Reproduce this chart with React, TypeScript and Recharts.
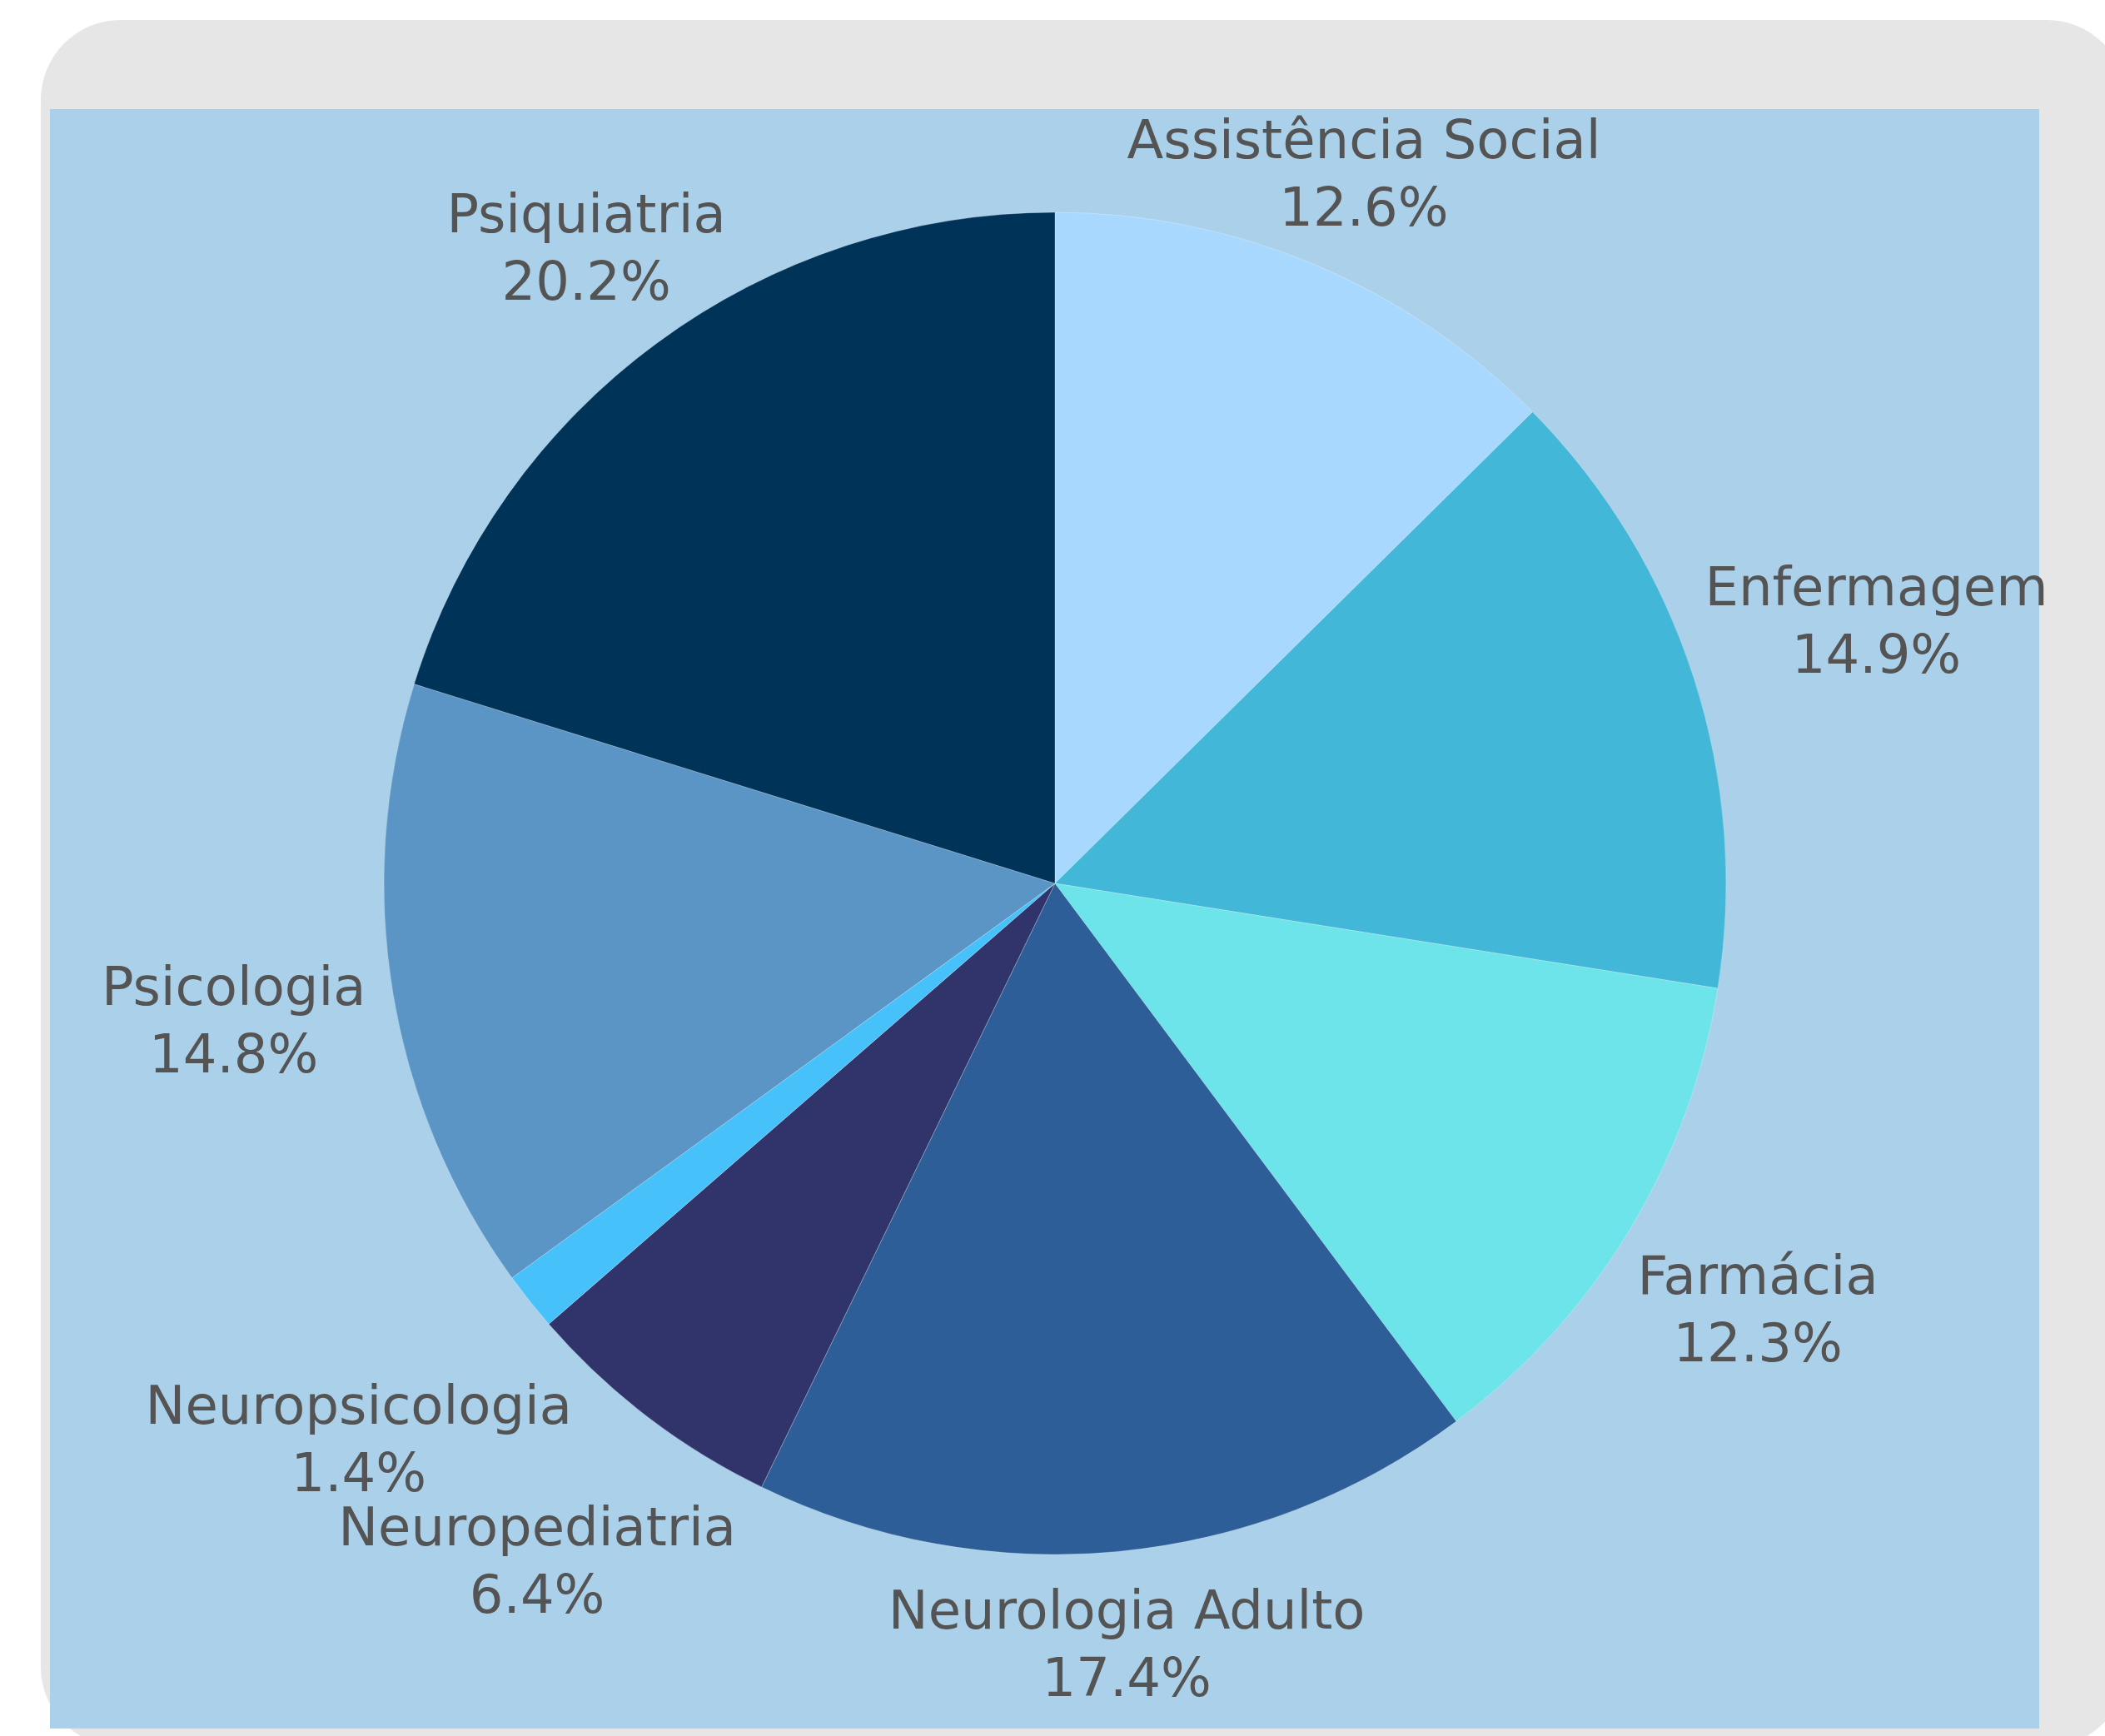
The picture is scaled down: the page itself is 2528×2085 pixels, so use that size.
import { PieChart, Pie, Cell } from "recharts";

const categories = [
  "Assistência Social",
  "Enfermagem",
  "Farmácia",
  "Neurologia Adulto",
  "Neuropediatria",
  "Neuropsicologia",
  "Psicologia",
  "Psiquiatria",
];

const shares = [12.6, 14.9, 12.3, 17.4, 6.4, 1.4, 14.8, 20.2];

const COLORS = [
  "#a9d8ff",
  "#43b7d7",
  "#6ce4e9",
  "#2e5e97",
  "#30346b",
  "#47c1fa",
  "#5b95c5",
  "#003358",
];

const FONT_SIZE = 64;
const FONT = "DejaVu Sans";
const TEXT_COLOR = "#545454";
const PANEL_TOP = 131;

const data = categories.map((name, i) => ({ name, value: shares[i] }));

let ctx: CanvasRenderingContext2D | null = null;
function textWidth(s: string) {
  if (!ctx) ctx = document.createElement("canvas").getContext("2d");
  if (!ctx) return s.length * FONT_SIZE * 0.6;
  ctx.font = `${FONT_SIZE}px "${FONT}"`;
  return ctx.measureText(s).width;
}

const RAD = Math.PI / 180;

function renderLabel(props: any) {
  const { cx, cy, midAngle, outerRadius, name, percent } = props;
  const pct = `${(percent * 100).toFixed(1)}%`;
  const dx = Math.cos(-midAngle * RAD);
  const dy = Math.sin(-midAngle * RAD);
  const hw = Math.max(textWidth(name), textWidth(pct)) / 2;
  // push the label out until its box clears the rim
  const dist =
    outerRadius + 28 + hw * Math.abs(dx) + (dy > 0 ? 55 * dy : 20 * -dy);
  const x = cx + dist * dx;
  // keep the first line inside the blue panel
  const y = Math.max(cy + dist * dy, PANEL_TOP + 76);
  return (
    <text
      x={x}
      y={y}
      textAnchor="middle"
      fill={TEXT_COLOR}
      fontSize={FONT_SIZE}
      fontFamily={FONT}
    >
      <tspan x={x} y={y - 17}>
        {name}
      </tspan>
      <tspan x={x} y={y + 64}>
        {pct}
      </tspan>
    </text>
  );
}

export default function App() {
  return (
    <div
      style={{
        position: "absolute",
        left: 0,
        top: 0,
        width: 2528,
        height: 2085,
        overflow: "hidden",
        background: "#ffffff",
      }}
    >
      <div
        style={{
          position: "absolute",
          left: 49,
          top: 24,
          width: 2505,
          height: 2074,
          borderRadius: 96,
          background: "#e6e6e6",
        }}
      />
      <div
        style={{
          position: "absolute",
          left: 60,
          top: PANEL_TOP,
          width: 2389,
          height: 1945,
          background: "#abd0e9",
        }}
      />
      <div style={{ position: "absolute", left: 0, top: 0 }}>
        <PieChart width={2528} height={2085}>
          <Pie
            data={data}
            dataKey="value"
            nameKey="name"
            cx={1262}
            cy={1056}
            outerRadius={806}
            startAngle={90}
            endAngle={-270}
            stroke="rgba(255,255,255,0.25)"
            strokeWidth={1}
            label={renderLabel}
            labelLine={false}
            isAnimationActive={false}
          >
            {data.map((_, i) => (
              <Cell key={i} fill={COLORS[i]} />
            ))}
          </Pie>
        </PieChart>
      </div>
    </div>
  );
}
